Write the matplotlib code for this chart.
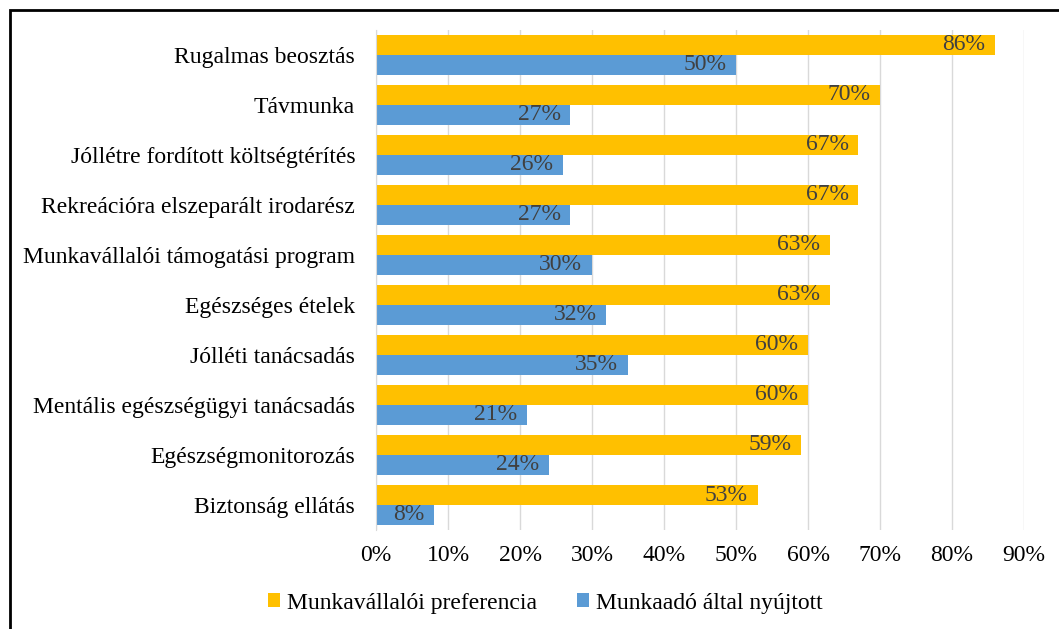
import matplotlib.pyplot as plt
import matplotlib.patches as patches
import numpy as np
from matplotlib.ticker import FuncFormatter

plt.rcParams['font.family'] = ['Liberation Serif', 'DejaVu Serif']

categories = [
    "Rugalmas beosztás",
    "Távmunka",
    "Jóllétre fordított költségtérítés",
    "Rekreációra elszeparált irodarész",
    "Munkavállalói támogatási program",
    "Egészséges ételek",
    "Jólléti tanácsadás",
    "Mentális egészségügyi tanácsadás",
    "Egészségmonitorozás",
    "Biztonság ellátás",
]
preferencia = [86, 70, 67, 67, 63, 63, 60, 60, 59, 53]
nyujtott = [50, 27, 26, 27, 30, 32, 35, 21, 24, 8]
series_names = ["Munkavállalói preferencia", "Munkaadó által nyújtott"]

fig = plt.figure(figsize=(10.59, 6.29), dpi=100)
ax = fig.add_axes([376 / 1059, 1 - 530 / 629, (1024 - 376) / 1059, 500 / 629])

y = np.arange(len(categories))
h = 0.4
b1 = ax.barh(y - h / 2, preferencia, height=h, color='#FFC000', label=series_names[0], zorder=2)
b2 = ax.barh(y + h / 2, nyujtott, height=h, color='#5B9BD5', label=series_names[1], zorder=2)

# value labels inside the bar ends
for bars, vals in [(b1, preferencia), (b2, nyujtott)]:
    for bar, v in zip(bars, vals):
        ax.annotate(f"{v}%", (bar.get_width(), bar.get_y() + bar.get_height() / 2),
                    xytext=(-7, 0), textcoords='offset points', ha='right', va='center',
                    fontsize=17, color='#404040', zorder=3)

ax.set_ylim(len(categories) - 0.5, -0.5)
ax.set_xlim(0, 90)
ax.set_xticks(range(0, 91, 10))
ax.xaxis.set_major_formatter(FuncFormatter(lambda v, p: f"{int(v)}%"))
ax.set_yticks(y)
ax.set_yticklabels(categories)
ax.tick_params(axis='both', length=0, labelsize=17, colors='black')
ax.tick_params(axis='y', pad=15)
ax.tick_params(axis='x', pad=11)
ax.grid(axis='x', color='#D9D9D9', linewidth=1, zorder=0)
for s in ['top', 'right', 'bottom']:
    ax.spines[s].set_visible(False)
ax.spines['left'].set_color('#D9D9D9')

ax.legend(loc='center', bbox_to_anchor=(545 / 1059, 1 - 603 / 629), bbox_transform=fig.transFigure,
          ncol=2, frameon=False, fontsize=17, handlelength=0.5, handleheight=0.5,
          handletextpad=0.3, columnspacing=1.7)

# border around the figure (only top and left visible)
fig.patches.append(patches.Rectangle((10 / 1059, -0.1), 1.2, 1 - 10 / 629 + 0.1,
                                     transform=fig.transFigure, fill=False,
                                     edgecolor='black', linewidth=2))

fig.savefig('out.png', dpi=100)
